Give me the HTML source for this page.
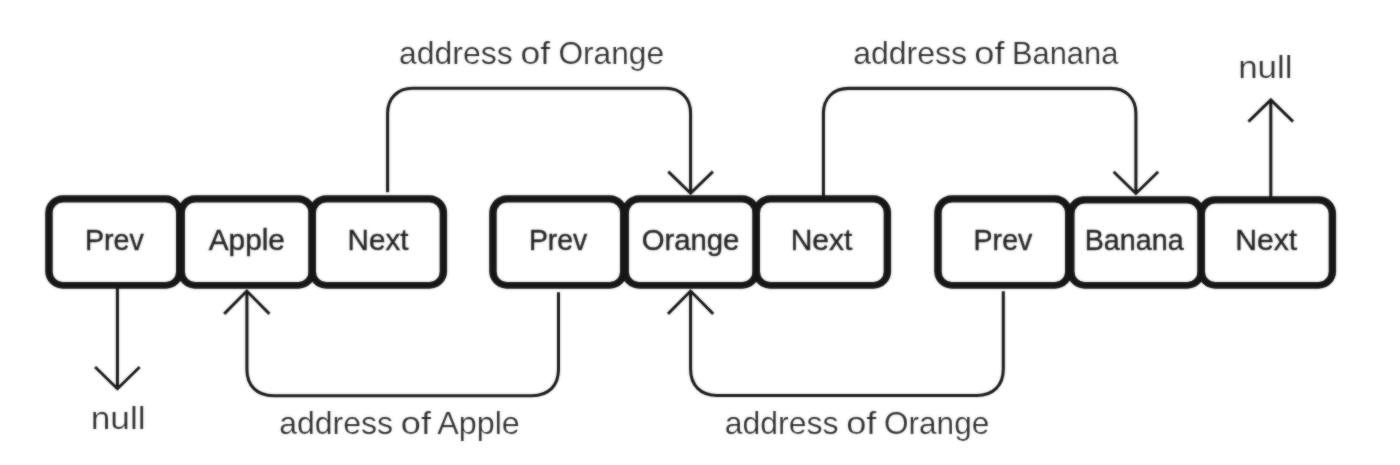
<!DOCTYPE html>
<html><head><meta charset="utf-8"><title>Doubly linked list</title>
<style>
html,body{margin:0;padding:0;background:#fff;}
svg{display:block;}
text{font-family:"Liberation Sans",sans-serif;font-size:29.8px;fill:#242424;stroke:#ffffff;stroke-width:0.2px;}
</style></head>
<body>
<svg width="1400" height="465" viewBox="0 0 1400 465">
<defs><filter id="soft" x="0" y="0" width="1400" height="465" filterUnits="userSpaceOnUse"><feGaussianBlur in="SourceGraphic" stdDeviation="0.85" result="b"/><feComposite in="SourceGraphic" in2="b" operator="arithmetic" k1="0" k2="0.5" k3="0.5" k4="0"/></filter></defs>
<rect x="0" y="0" width="1400" height="465" fill="#ffffff"/>
<g filter="url(#soft)">
<g fill="none" stroke="#1a1a1a" stroke-width="3.1" stroke-linecap="butt" stroke-linejoin="miter">
<path d="M117.4 286 V388.5"/>
<path stroke-width="2.95" d="M95.10 367.00 L117.40 388.70 L139.70 367.00"/>
<path d="M1270.8 198 V99.8"/>
<path stroke-width="2.95" d="M1248.50 121.60 L1270.80 99.90 L1293.10 121.60"/>
<path d="M387.6 192.3 V113.3 C387.6 98.30 397.60 88.3 412.6 88.3 H665.6 C680.60 88.3 690.6 98.30 690.6 113.3 V193.5"/>
<path stroke-width="2.95" d="M668.30 171.60 L690.60 193.30 L712.90 171.60"/>
<path d="M823.4 200 V113.4 C823.4 98.40 833.40 88.4 848.4 88.4 H1110.9 C1125.90 88.4 1135.9 98.40 1135.9 113.4 V193.5"/>
<path stroke-width="2.95" d="M1113.60 171.80 L1135.90 193.50 L1158.20 171.80"/>
<path d="M558.5 292.2 V369.3 C558.5 385.73 548.43 395.8 532.0 395.8 H273.4 C256.97 395.8 246.9 385.73 246.9 369.3 V291.0"/>
<path stroke-width="2.95" d="M224.20 313.90 L246.80 291.00 L269.40 313.90"/>
<path d="M1003.3 291.3 V369.0 C1003.3 385.43 993.23 395.5 976.8 395.5 H717.1 C700.67 395.5 690.6 385.43 690.6 369.0 V291.0"/>
<path stroke-width="2.95" d="M668.00 313.90 L690.60 291.00 L713.20 313.90"/>
</g>
<g fill="#181818" fill-rule="evenodd" stroke="none">
<path d="M62.70 195.30 H166.00 A17.5 17.5 0 0 1 183.50 212.80 V271.20 A17.5 17.5 0 0 1 166.00 288.70 H62.70 A17.5 17.5 0 0 1 45.20 271.20 V212.80 A17.5 17.5 0 0 1 62.70 195.30 Z M62.90 202.55 H165.80 A10.2 10.2 0 0 1 176.00 212.75 V271.70 A10.2 10.2 0 0 1 165.80 281.90 H62.90 A10.2 10.2 0 0 1 52.70 271.70 V212.75 A10.2 10.2 0 0 1 62.90 202.55 Z"/>
<path d="M194.95 195.30 H298.45 A17.5 17.5 0 0 1 315.95 212.80 V271.20 A17.5 17.5 0 0 1 298.45 288.70 H194.95 A17.5 17.5 0 0 1 177.45 271.20 V212.80 A17.5 17.5 0 0 1 194.95 195.30 Z M195.15 202.55 H298.25 A10.2 10.2 0 0 1 308.45 212.75 V271.70 A10.2 10.2 0 0 1 298.25 281.90 H195.15 A10.2 10.2 0 0 1 184.95 271.70 V212.75 A10.2 10.2 0 0 1 195.15 202.55 Z"/>
<path d="M326.05 195.30 H429.65 A17.5 17.5 0 0 1 447.15 212.80 V271.20 A17.5 17.5 0 0 1 429.65 288.70 H326.05 A17.5 17.5 0 0 1 308.55 271.20 V212.80 A17.5 17.5 0 0 1 326.05 195.30 Z M326.25 202.55 H429.45 A10.2 10.2 0 0 1 439.65 212.75 V271.70 A10.2 10.2 0 0 1 429.45 281.90 H326.25 A10.2 10.2 0 0 1 316.05 271.70 V212.75 A10.2 10.2 0 0 1 326.25 202.55 Z"/>
<path d="M506.70 195.30 H610.00 A17.5 17.5 0 0 1 627.50 212.80 V271.20 A17.5 17.5 0 0 1 610.00 288.70 H506.70 A17.5 17.5 0 0 1 489.20 271.20 V212.80 A17.5 17.5 0 0 1 506.70 195.30 Z M506.90 202.55 H609.80 A10.2 10.2 0 0 1 620.00 212.75 V271.70 A10.2 10.2 0 0 1 609.80 281.90 H506.90 A10.2 10.2 0 0 1 496.70 271.70 V212.75 A10.2 10.2 0 0 1 506.90 202.55 Z"/>
<path d="M638.95 195.30 H742.45 A17.5 17.5 0 0 1 759.95 212.80 V271.20 A17.5 17.5 0 0 1 742.45 288.70 H638.95 A17.5 17.5 0 0 1 621.45 271.20 V212.80 A17.5 17.5 0 0 1 638.95 195.30 Z M639.15 202.55 H742.25 A10.2 10.2 0 0 1 752.45 212.75 V271.70 A10.2 10.2 0 0 1 742.25 281.90 H639.15 A10.2 10.2 0 0 1 628.95 271.70 V212.75 A10.2 10.2 0 0 1 639.15 202.55 Z"/>
<path d="M770.05 195.30 H873.65 A17.5 17.5 0 0 1 891.15 212.80 V271.20 A17.5 17.5 0 0 1 873.65 288.70 H770.05 A17.5 17.5 0 0 1 752.55 271.20 V212.80 A17.5 17.5 0 0 1 770.05 195.30 Z M770.25 202.55 H873.45 A10.2 10.2 0 0 1 883.65 212.75 V271.70 A10.2 10.2 0 0 1 873.45 281.90 H770.25 A10.2 10.2 0 0 1 760.05 271.70 V212.75 A10.2 10.2 0 0 1 770.25 202.55 Z"/>
<path d="M951.70 195.30 H1055.00 A17.5 17.5 0 0 1 1072.50 212.80 V271.20 A17.5 17.5 0 0 1 1055.00 288.70 H951.70 A17.5 17.5 0 0 1 934.20 271.20 V212.80 A17.5 17.5 0 0 1 951.70 195.30 Z M951.90 202.55 H1054.80 A10.2 10.2 0 0 1 1065.00 212.75 V271.70 A10.2 10.2 0 0 1 1054.80 281.90 H951.90 A10.2 10.2 0 0 1 941.70 271.70 V212.75 A10.2 10.2 0 0 1 951.90 202.55 Z"/>
<path d="M1084.55 196.20 H1187.45 A17.5 17.5 0 0 1 1204.95 213.70 V271.20 A17.5 17.5 0 0 1 1187.45 288.70 H1084.55 A17.5 17.5 0 0 1 1067.05 271.20 V213.70 A17.5 17.5 0 0 1 1084.55 196.20 Z M1084.75 203.45 H1187.25 A10.2 10.2 0 0 1 1197.45 213.65 V271.70 A10.2 10.2 0 0 1 1187.25 281.90 H1084.75 A10.2 10.2 0 0 1 1074.55 271.70 V213.65 A10.2 10.2 0 0 1 1084.75 203.45 Z"/>
<path d="M1215.05 196.20 H1318.65 A17.5 17.5 0 0 1 1336.15 213.70 V271.20 A17.5 17.5 0 0 1 1318.65 288.70 H1215.05 A17.5 17.5 0 0 1 1197.55 271.20 V213.70 A17.5 17.5 0 0 1 1215.05 196.20 Z M1215.25 203.45 H1318.45 A10.2 10.2 0 0 1 1328.65 213.65 V271.70 A10.2 10.2 0 0 1 1318.45 281.90 H1215.25 A10.2 10.2 0 0 1 1205.05 271.70 V213.65 A10.2 10.2 0 0 1 1215.25 203.45 Z"/>
</g>
<g>
<text x="84.90" y="249.90" style="font-size:30.3px;stroke:#262626;stroke-width:0.4px" textLength="58.83" lengthAdjust="spacingAndGlyphs">Prev</text>
<text x="208.66" y="249.90" style="font-size:30.3px;stroke:#262626;stroke-width:0.4px" textLength="76.31" lengthAdjust="spacingAndGlyphs">Apple</text>
<text x="347.54" y="249.90" style="font-size:30.3px;stroke:#262626;stroke-width:0.4px" textLength="60.88" lengthAdjust="spacingAndGlyphs">Next</text>
<text x="528.89" y="249.90" style="font-size:30.3px;stroke:#262626;stroke-width:0.4px" textLength="58.41" lengthAdjust="spacingAndGlyphs">Prev</text>
<text x="641.65" y="249.90" style="font-size:30.3px;stroke:#262626;stroke-width:0.4px" textLength="97.76" lengthAdjust="spacingAndGlyphs">Orange</text>
<text x="790.65" y="249.90" style="font-size:30.3px;stroke:#262626;stroke-width:0.4px" textLength="61.73" lengthAdjust="spacingAndGlyphs">Next</text>
<text x="973.58" y="249.90" style="font-size:30.3px;stroke:#262626;stroke-width:0.4px" textLength="58.70" lengthAdjust="spacingAndGlyphs">Prev</text>
<text x="1084.75" y="249.90" style="font-size:30.3px;stroke:#262626;stroke-width:0.4px" textLength="98.85" lengthAdjust="spacingAndGlyphs">Banana</text>
<text x="1235.16" y="249.90" style="font-size:30.3px;stroke:#262626;stroke-width:0.4px" textLength="62.10" lengthAdjust="spacingAndGlyphs">Next</text>
<text x="399.06" y="63.60" style="font-size:32px" textLength="113.66" lengthAdjust="spacingAndGlyphs">address</text>
<text x="520.45" y="63.60" style="font-size:32px" textLength="29.59" lengthAdjust="spacingAndGlyphs">of</text>
<text x="558.38" y="63.60" style="font-size:32px" textLength="105.74" lengthAdjust="spacingAndGlyphs">Orange</text>
<text x="853.21" y="63.60" style="font-size:32px" textLength="113.85" lengthAdjust="spacingAndGlyphs">address</text>
<text x="974.34" y="63.60" style="font-size:32px" textLength="30.19" lengthAdjust="spacingAndGlyphs">of</text>
<text x="1011.91" y="63.60" style="font-size:32px" textLength="106.44" lengthAdjust="spacingAndGlyphs">Banana</text>
<text x="1238.18" y="78.10" style="font-size:32px" textLength="54.43" lengthAdjust="spacingAndGlyphs">null</text>
<text x="90.69" y="428.50" style="font-size:32px" textLength="54.94" lengthAdjust="spacingAndGlyphs">null</text>
<text x="279.23" y="434.30" style="font-size:32px" textLength="113.81" lengthAdjust="spacingAndGlyphs">address</text>
<text x="400.79" y="434.30" style="font-size:32px" textLength="30.17" lengthAdjust="spacingAndGlyphs">of</text>
<text x="437.24" y="434.30" style="font-size:32px" textLength="82.58" lengthAdjust="spacingAndGlyphs">Apple</text>
<text x="724.71" y="434.30" style="font-size:32px" textLength="113.79" lengthAdjust="spacingAndGlyphs">address</text>
<text x="846.15" y="434.30" style="font-size:32px" textLength="30.23" lengthAdjust="spacingAndGlyphs">of</text>
<text x="883.99" y="434.30" style="font-size:32px" textLength="105.30" lengthAdjust="spacingAndGlyphs">Orange</text>
</g>
</g>
</svg>
</body></html>
